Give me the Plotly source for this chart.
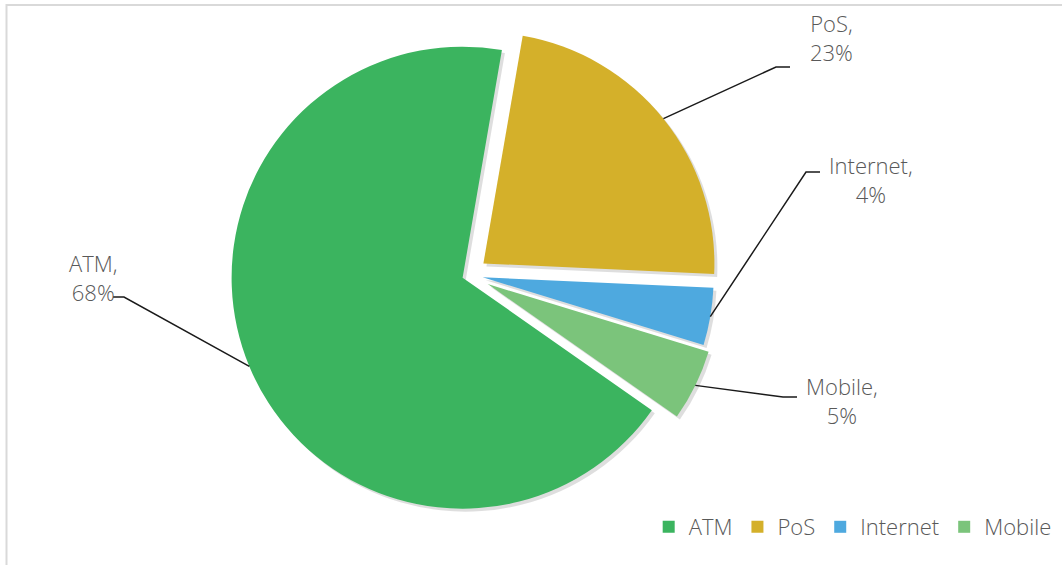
import math
import plotly.graph_objects as go

# Share of transactions by channel
channels = ["ATM", "PoS", "Internet", "Mobile"]
shares = [68, 23, 4, 5]
colors = ["#3bb45f", "#d4b02a", "#4ea9df", "#7bc47b"]
pulls = [0.03, 0.08, 0.06, 0.09]

W, H = 1062, 565
FONT = "Open Sans"
TEXT_COLOR = "#595959"
FONT_SIZE = 22

# Pie placement (pixels): centre and radius of the disc
CX, CY, R = 469, 275, 231
ROTATION = 125
max_pull = max(pulls)
half_box = R * (1 + max_pull)

def px_x(x):
    return x / W

def px_y(y):
    return 1 - y / H

domain = dict(x=[px_x(CX - half_box), px_x(CX + half_box)],
              y=[px_y(CY + half_box), px_y(CY - half_box)])

# Soft shadow drawn under the slices, offset down-right
SH = 3
shadow_domain = dict(x=[px_x(CX - half_box + SH), px_x(CX + half_box + SH)],
                     y=[px_y(CY + half_box + SH), px_y(CY - half_box + SH)])

fig = go.Figure()
fig.add_trace(go.Pie(
    labels=[f"shadow-{c}" for c in channels], values=shares, sort=False,
    direction="clockwise", rotation=ROTATION, pull=pulls,
    marker=dict(colors=["rgba(0,0,0,0.13)"] * len(channels), line=dict(width=0)),
    textinfo="none", hoverinfo="skip", showlegend=False, domain=shadow_domain,
))
fig.add_trace(go.Pie(
    labels=channels, values=shares, sort=False,
    direction="clockwise", rotation=ROTATION, pull=pulls,
    marker=dict(colors=colors, line=dict(width=0)),
    textinfo="none", hoverinfo="label+percent", domain=domain,
))

# Data labels with elbow leader lines (label centre, elbow end, elbow start)
label_pos = {
    "ATM": (93, 277, 113, 124, 297),
    "PoS": (831, 37, 790, 776, 67),
    "Internet": (871, 179, 820, 806, 172),
    "Mobile": (842, 401, 797, 783, 397),
}

total = sum(shares)
start = ROTATION
shapes = []
annotations = []
for name, val, pull in zip(channels, shares, pulls):
    span = 360 * val / total
    mid = math.radians(start + span / 2)
    start += span
    rr = R * (1 + pull)
    ex = CX + rr * math.sin(mid)
    ey = CY - rr * math.cos(mid)
    lx, ly, hx_end, hx_start, hy = label_pos[name]
    path = (f"M {px_x(ex)},{px_y(ey)} L {px_x(hx_start)},{px_y(hy)} "
            f"L {px_x(hx_end)},{px_y(hy)}")
    shapes.append(dict(type="path", xref="paper", yref="paper", path=path,
                       line=dict(color="#1a1a1a", width=1.5)))
    annotations.append(dict(
        x=px_x(lx), y=px_y(ly), xref="paper", yref="paper",
        text=f"{name},<br>{val}%", showarrow=False, align="center",
        xanchor="center", yanchor="middle",
        font=dict(family=FONT, size=FONT_SIZE, color=TEXT_COLOR, weight=300),
    ))

# Chart-area border
shapes.append(dict(type="rect", xref="paper", yref="paper",
                   x0=px_x(6.5), y0=px_y(H + 10), x1=px_x(W + 10), y1=px_y(5),
                   line=dict(color="#d9d9d9", width=2), layer="below"))

fig.update_layout(
    width=W, height=H,
    margin=dict(l=0, r=0, t=0, b=0),
    paper_bgcolor="white", plot_bgcolor="white",
    shapes=shapes, annotations=annotations,
    font=dict(family=FONT, color=TEXT_COLOR, weight=300),
    legend=dict(orientation="h", x=0.995, xanchor="right",
                y=px_y(527), yanchor="middle",
                font=dict(family=FONT, size=FONT_SIZE, color=TEXT_COLOR, weight=300),
                itemwidth=30, tracegroupgap=0, bgcolor="rgba(0,0,0,0)"),
)

fig.write_html("out.html")
